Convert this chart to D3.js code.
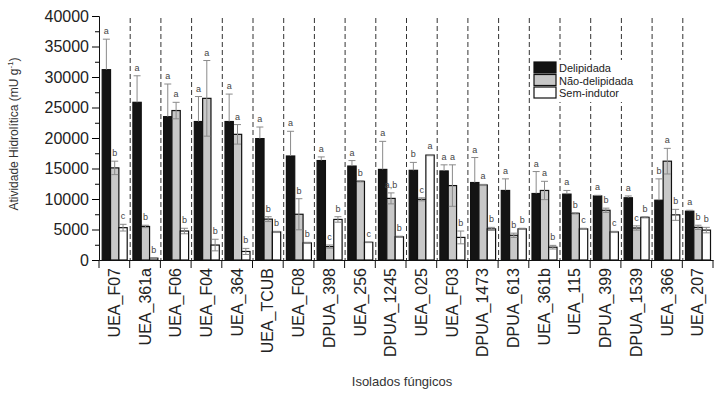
<!DOCTYPE html>
<html>
<head>
<meta charset="utf-8">
<script src="https://cdn.jsdelivr.net/npm/d3@7"></script>
<style>
  body { margin: 0; background: #fff; }
  text { font-family: "Liberation Sans", Arial, sans-serif; }
</style>
</head>
<body>
<div id="chart"></div>
<script>
  // isolates, in the order shown
  var groups = ["UEA_F07", "UEA_361a", "UEA_F06", "UEA_F04", "UEA_364", "UEA_TCUB", "UEA_F08",
                "DPUA_398", "UEA_256", "DPUA_1245", "UEA_025", "UEA_F03", "DPUA_1473", "DPUA_613",
                "UEA_361b", "UEA_115", "DPUA_399", "DPUA_1539", "UEA_366", "UEA_207"];

  var series = ["Delipidada", "Não-delipidada", "Sem-indutor"];

  var delip    = [31200, 25850, 23500, 22700, 22700, 19900, 17050, 16300, 15400, 14850, 14700, 14600, 12700, 11400, 10900, 10800, 10500, 10200, 9800, 8000];
  var delipErr = [5000, 4350, 5350, 4100, 4500, 1900, 4050, 600, 900, 4600, 1300, 1000, 4100, 1900, 3600, 600, 100, 300, 3500, 150];
  var delipLet = ["a", "a", "a", "a", "a", "a", "a", "a", "a", "a", "b", "a", "a", "a", "a", "a", "a", "a", "b", "a"];

  var nao    = [15100, 5500, 24500, 26500, 20600, 6700, 7500, 2200, 12900, 10100, 9950, 12200, 12300, 4050, 11400, 7650, 8150, 5250, 16200, 5350];
  var naoErr = [1100, 200, 1350, 6200, 1600, 400, 2550, 260, 100, 900, 250, 3400, 100, 350, 1500, 100, 350, 350, 2100, 350];
  var naoLet = ["b", "b", "a", "a", "a", "b", "b", "c", "b", "a,b", "c", "a", "a", "b", "a", "b", "b", "c", "a", "b"];

  var sem    = [5300, 300, 4750, 2450, 1400, 4600, 2800, 6650, 2900, 3800, 17200, 3700, 5100, 5100, 2100, 5100, 4600, 7000, 7400, 4900];
  var semErr = [550, 50, 450, 950, 500, 100, 100, 450, 50, 100, 100, 1050, 250, 100, 300, 100, 100, 100, 900, 450];
  var semLet = ["c", "b", "b", "b", "b", "b", "b", "b", "c", "b", "a", "b", "b", "b", "b", "c", "c", "b", "b", "b"];

  var yTicks = [0, 5000, 10000, 15000, 20000, 25000, 30000, 35000, 40000];

  var fills = ["#141414", "#c8c8c8", "#ffffff"];

  var margin = {top: 16, right: 15, bottom: 133, left: 99},
      width = 728 - margin.left - margin.right,
      height = 393 - margin.top - margin.bottom;

  var svg = d3.select("#chart")
    .append("svg")
      .attr("width", 728)
      .attr("height", 393)
    .append("g")
      .attr("transform", "translate(" + margin.left + "," + margin.top + ")");

  var x = d3.scaleBand()
    .domain(groups)
    .range([0, width]);

  var xs = d3.scaleBand()
    .domain(series)
    .range([3.2, x.bandwidth() - 2.5]);

  var y = d3.scaleLinear()
    .domain([0, 40000])
    .range([height, 0]);

  // build rows from the arrays
  var vals = [delip, nao, sem], errs = [delipErr, naoErr, semErr], lets = [delipLet, naoLet, semLet];
  var rows = [];
  groups.forEach(function (g, i) {
    series.forEach(function (s, j) {
      rows.push({group: g, key: s, k: j, value: vals[j][i], err: errs[j][i], letter: lets[j][i]});
    });
  });

  // dashed separators
  svg.append("g")
    .selectAll("line")
    .data(groups.slice(1))
    .enter()
    .append("line")
      .attr("x1", d => x(d) + 0.5)
      .attr("x2", d => x(d) + 0.5)
      .attr("y1", 2)
      .attr("y2", height)
      .attr("stroke", "#333")
      .attr("stroke-width", 1)
      .attr("stroke-dasharray", "5,3");

  var bw = xs.bandwidth();

  // bars
  svg.append("g")
    .selectAll("rect")
    .data(rows)
    .enter()
    .append("rect")
      .attr("x", d => x(d.group) + xs(d.key))
      .attr("y", d => y(d.value))
      .attr("width", bw)
      .attr("height", d => height - y(d.value))
      .attr("fill", d => fills[d.k])
      .attr("stroke", "#111")
      .attr("stroke-width", 1.2);

  // error bars (lower half is lost inside the black bars)
  var eb = svg.append("g")
    .attr("stroke", "#8a8a8a")
    .attr("stroke-width", 1);

  rows.forEach(function (d) {
    var cx = x(d.group) + xs(d.key) + bw / 2;
    var lo = d.k == 0 ? d.value : Math.max(0, d.value - d.err), hi = d.value + d.err;
    eb.append("line").attr("x1", cx).attr("x2", cx).attr("y1", y(lo)).attr("y2", y(hi));
    eb.append("line").attr("x1", cx - 3.5).attr("x2", cx + 3.5).attr("y1", y(hi)).attr("y2", y(hi));
    if (d.k != 0)
      eb.append("line").attr("x1", cx - 3.5).attr("x2", cx + 3.5).attr("y1", y(lo)).attr("y2", y(lo));
  });

  // significance letters
  svg.append("g")
    .selectAll("text")
    .data(rows)
    .enter()
    .append("text")
      .attr("x", d => x(d.group) + xs(d.key) + bw / 2)
      .attr("y", d => y(d.value + d.err) - 5)
      .attr("text-anchor", "middle")
      .attr("font-size", "9px")
      .attr("fill", "#444")
      .text(d => d.letter);

  // y axis
  var yAxis = svg.append("g")
    .call(d3.axisLeft(y).tickValues(yTicks).tickSize(7).tickPadding(3).tickFormat(d3.format("d")));
  yAxis.selectAll("text").attr("font-size", "16px").attr("fill", "#222");
  yAxis.select(".domain").attr("stroke", "#111");
  svg.append("g")
    .call(d3.axisLeft(y).tickValues(d3.range(2500, 40000, 5000)).tickSize(4).tickFormat(""))
    .select(".domain").remove();

  // x axis
  var xAxis = svg.append("g")
    .attr("transform", "translate(0," + height + ")")
    .call(d3.axisBottom(x).tickSize(0).tickSizeOuter(0));
  xAxis.select(".domain").attr("stroke", "#111").attr("stroke-width", 1.2);
  xAxis.selectAll("text")
    .attr("font-size", "16px")
    .attr("fill", "#222")
    .attr("transform", "rotate(-90)")
    .attr("text-anchor", "end")
    .attr("x", -8)
    .attr("y", 0)
    .attr("dy", "0.35em");

  // boundary ticks
  svg.append("g")
    .selectAll("line")
    .data(groups.concat(["end"]))
    .enter()
    .append("line")
      .attr("x1", (d, i) => i * x.bandwidth())
      .attr("x2", (d, i) => i * x.bandwidth())
      .attr("y1", height)
      .attr("y2", height + 8)
      .attr("stroke", "#111");

  // axis titles
  svg.append("text")
    .attr("transform", "translate(-81," + (height / 2 - 4) + ") rotate(-90)")
    .attr("text-anchor", "middle")
    .attr("font-size", "12px")
    .attr("fill", "#333")
    .html("Atividade Hidrolítica (mU g<tspan dy='-5' font-size='8px'>-1</tspan><tspan dy='5'>)</tspan>");

  svg.append("text")
    .attr("x", 303)
    .attr("y", 370)
    .attr("text-anchor", "middle")
    .attr("font-size", "13px")
    .attr("fill", "#333")
    .text("Isolados fúngicos");

  // legend
  var lg = svg.append("g").attr("transform", "translate(434,46)");
  lg.append("rect")
    .attr("x", -1).attr("y", -2).attr("width", 103).attr("height", 42)
    .attr("fill", "#fff");
  series.forEach(function (s, i) {
    lg.append("rect")
      .attr("x", 1).attr("y", i * 12.5)
      .attr("width", 22).attr("height", 11)
      .attr("fill", fills[i])
      .attr("stroke", "#111").attr("stroke-width", 1.2);
    lg.append("text")
      .attr("x", 26).attr("y", i * 12.5 + 10)
      .attr("font-size", "11px")
      .attr("fill", "#222")
      .text(s);
  });
</script>
</body>
</html>
